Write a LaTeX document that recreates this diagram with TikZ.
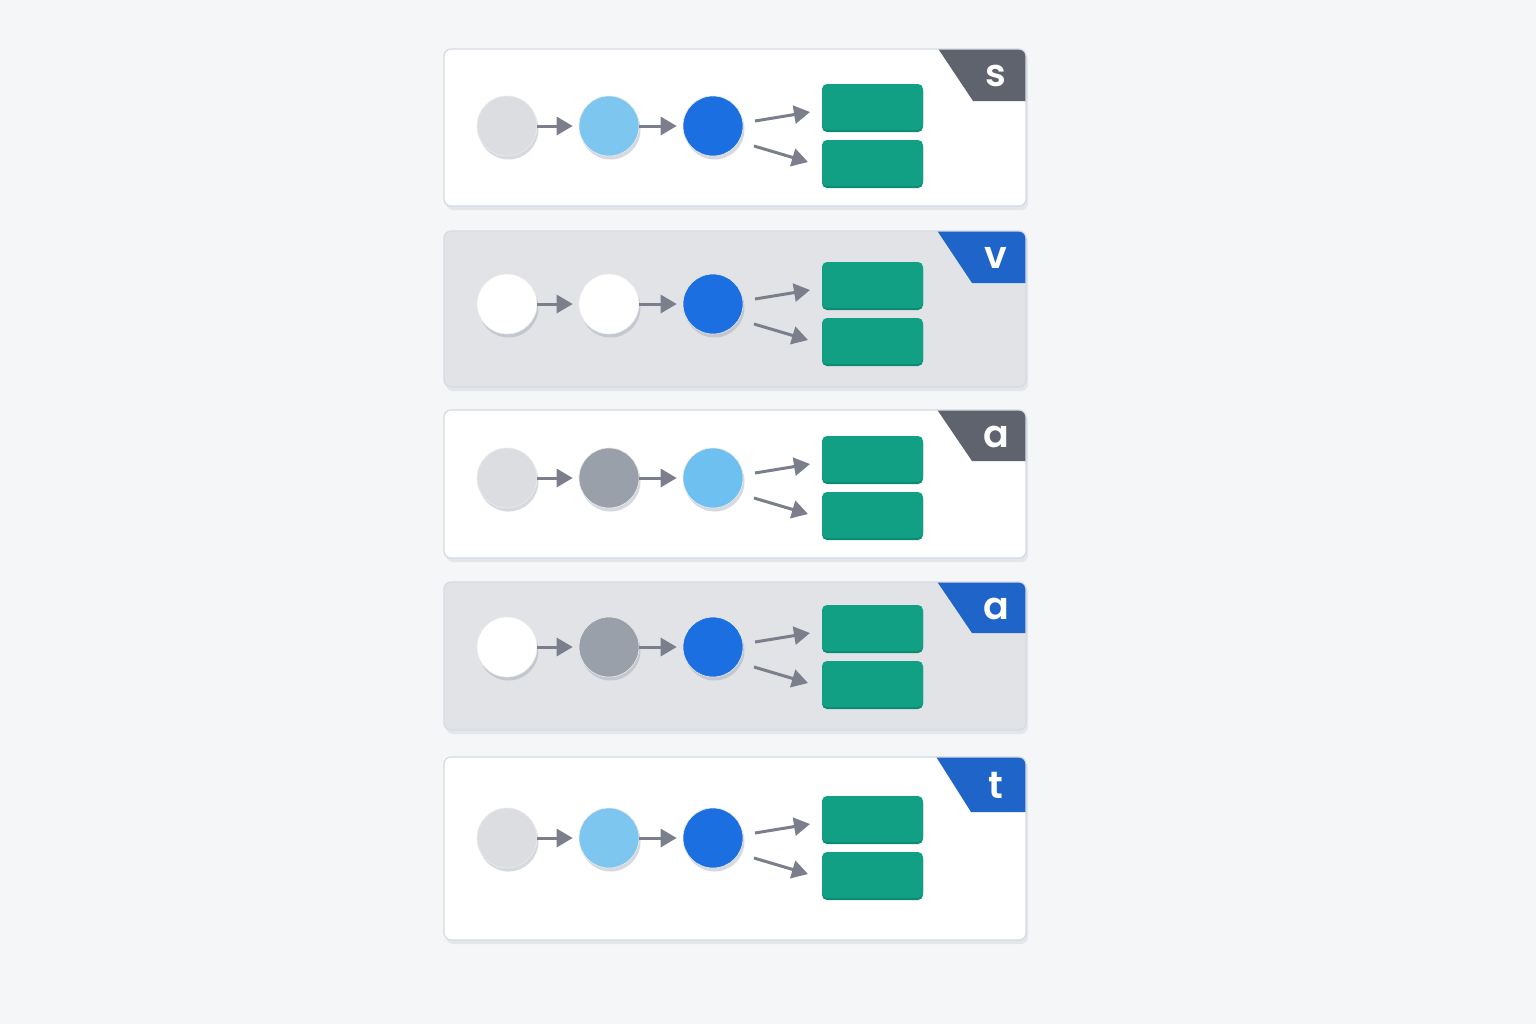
\documentclass[tikz,border=0pt]{standalone}
\usepackage{fontspec}
\setmainfont{Poppins}
\newfontfamily\tagfont{Poppins}[UprightFont=* SemiBold]
\usetikzlibrary{arrows.meta}
\definecolor{bgc}{HTML}{F5F6F8}
\definecolor{pwhite}{HTML}{FFFFFF}
\definecolor{pgray}{HTML}{E1E3E7}
\definecolor{pborder}{HTML}{D5DAE3}
\definecolor{tgray}{HTML}{5E636D}
\definecolor{tblue}{HTML}{1F64C8}
\definecolor{clgray}{HTML}{DCDDE1}
\definecolor{clblue}{HTML}{7DC6F0}
\definecolor{clbluetwo}{HTML}{6EC0F0}
\definecolor{cblue}{HTML}{1B6FE0}
\definecolor{cdgray}{HTML}{9AA0AA}
\definecolor{cwhite}{HTML}{FFFFFF}
\definecolor{green}{HTML}{12A084}
\definecolor{greendark}{HTML}{0D8A71}
\definecolor{arrc}{HTML}{7B7F8C}
\definecolor{shadowc}{HTML}{8A93A6}
\tikzset{
  circ/.style={circle, inner sep=0pt, minimum size=30pt, draw=black!8, line width=0.3pt},
  gbox/.style={rectangle, rounded corners=2.5pt, inner sep=0pt, minimum width=50.5pt, minimum height=23pt, fill=green},
  arr/.style={draw=arrc, line width=1.5pt, -{Triangle[length=8pt,width=9pt]}},
  taglabel/.style={text=white, font=\tagfont\fontsize{19}{22}\selectfont, inner sep=0pt},
  panelbox/.style={draw=pborder, line width=0.6pt, rounded corners=3.5pt}
}
\begin{document}
\begin{tikzpicture}[x=0.5pt,y=-0.5pt]
\fill[bgc] (0,0) rectangle (1536,1024);
\useasboundingbox (0,0) rectangle (1536,1024);
\foreach \i/\top/\bot/\pfill/\tagc/\tagx/\tagb/\lab/\ca/\cb/\cc/\cy in {
 1/49/206/pwhite/tgray/937/101/s/clgray/clblue/cblue/126,
 2/231/387/pgray/tblue/936/283/v/cwhite/cwhite/cblue/304,
 3/410/558/pwhite/tgray/936/461/a/clgray/cdgray/clbluetwo/478,
 4/582/730/pgray/tblue/936/633/a/cwhite/cdgray/cblue/647,
 5/757/940/pwhite/tblue/935/812/t/clgray/clblue/cblue/838}{
  % panel shadow
  \fill[shadowc, opacity=0.16, rounded corners=3.5pt] (446,\top+4) rectangle (1028,\bot+4);
  \fill[\pfill, rounded corners=3.5pt] (444,\top) rectangle (1026,\bot);
  \begin{scope}
    \clip[rounded corners=3.5pt] (444,\top) rectangle (1026,\bot);
    \fill[\tagc] (\tagx,\top-2) -- (1030,\top-2) -- (1030,\tagb) -- ({\tagx+36},\tagb) -- cycle;
  \end{scope}
  \draw[panelbox] (444,\top) rectangle (1026,\bot);
  \node[taglabel] (t\i) at (996,{(\top+\tagb)/2+1}) {\lab};
  % circle shadows
  \foreach \cx in {507,609,713}{
    \fill[shadowc, opacity=0.35] (\cx+1.5,\cy+3.5) circle (15pt);
  }
  \node[circ, fill=\ca] (c\i a) at (507,\cy) {};
  \node[circ, fill=\cb] (c\i b) at (609,\cy) {};
  \node[circ, fill=\cc] (c\i c) at (713,\cy) {};
  \draw[arr, shorten >=3pt] (c\i a) -- (c\i b);
  \draw[arr, shorten >=3pt] (c\i b) -- (c\i c);
  % green boxes
  \fill[greendark, rounded corners=2.5pt] (822,\cy-42+2) rectangle (923,\cy+4+2);
  \fill[greendark, rounded corners=2.5pt] (822,\cy+14+2) rectangle (923,\cy+60+2);
  \node[gbox] (r\i a) at (872.5,\cy-19) {};
  \node[gbox] (r\i b) at (872.5,\cy+37) {};
  \coordinate (u\i s) at (755,\cy-5);
  \coordinate (u\i e) at (810,\cy-14);
  \coordinate (l\i s) at (754,\cy+20);
  \coordinate (l\i e) at (808,\cy+36);
  \draw[arr] (u\i s) -- (u\i e);
  \draw[arr] (l\i s) -- (l\i e);
}
\end{tikzpicture}
\end{document}
